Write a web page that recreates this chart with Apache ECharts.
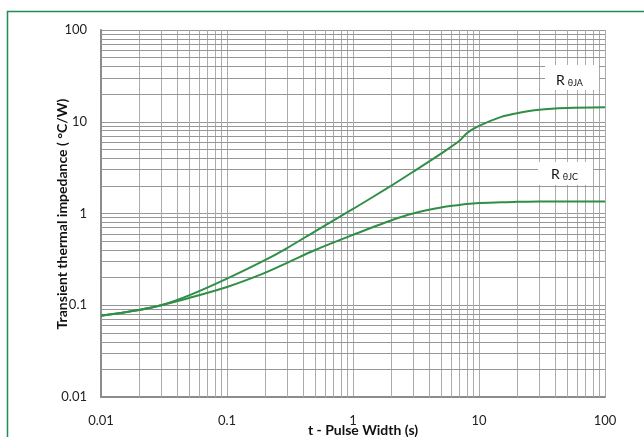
<!DOCTYPE html>
<html>
<head>
<meta charset="utf-8">
<script src="https://cdn.jsdelivr.net/npm/echarts@6/dist/echarts.min.js"></script>
<style>
html,body{margin:0;padding:0;background:#fff;}
#chart{width:644px;height:437px;}
</style>
</head>
<body>
<div id="chart"></div>
<script>
// ---- data ----
var pulseWidth = [0.01, 0.02, 0.03, 0.05, 0.1, 0.2, 0.3, 0.5, 1, 2, 3, 5, 7, 8, 10, 15, 20, 30, 50, 100];
var rThetaJA   = [0.077, 0.089, 0.100, 0.128, 0.195, 0.31, 0.42, 0.64, 1.12, 2.0, 2.85, 4.5, 6.2, 7.5, 9.0, 11.3, 12.4, 13.5, 14.1, 14.35];
var rThetaJC   = [0.077, 0.089, 0.100, 0.120, 0.158, 0.225, 0.29, 0.40, 0.585, 0.84, 1.0, 1.16, 1.24, 1.27, 1.30, 1.33, 1.34, 1.35, 1.355, 1.355];
var xTicks = [0.01, 0.1, 1, 10, 100];
var yTicks = [0.01, 0.1, 1, 10, 100];
var seriesNames = ['RθJA', 'RθJC'];

function pairs(xs, ys){ return xs.map(function(x,i){ return [x, ys[i]]; }); }
function minors(){
  var out = [];
  for (var k = -2; k <= 1; k++) for (var m = 2; m <= 9; m++) out.push(m * Math.pow(10, k));
  return out;
}
var minorVals = minors();
var gridV = '#ababab', gridH = '#969696';
var fontFam = 'Lato, "Liberation Sans", sans-serif';

var chart = echarts.init(document.getElementById('chart'), null, {renderer:'canvas'});
var option = {
  animation: false,
  backgroundColor: '#fff',
  grid: {left: 101, right: 39, top: 30, bottom: 40, containLabel: false},
  xAxis: {
    type: 'log', logBase: 10, min: xTicks[0], max: xTicks[xTicks.length-1],
    axisLine: {show: true, lineStyle: {color: '#8c8c8c', width: 2}},
    axisTick: {show: false},
    axisLabel: {color: '#222', fontSize: 13, fontFamily: fontFam, margin: 17,
      formatter: function(v){ return String(+v.toPrecision(6)); }},
    splitLine: {show: true, lineStyle: {color: gridV, width: 1}}
  },
  yAxis: {
    type: 'log', logBase: 10, min: yTicks[0], max: yTicks[yTicks.length-1],
    axisLine: {show: true, lineStyle: {color: '#8c8c8c', width: 2}},
    axisTick: {show: false},
    axisLabel: {color: '#222', fontSize: 13, fontFamily: fontFam, margin: 14,
      formatter: function(v){ return String(+v.toPrecision(6)); }},
    splitLine: {show: true, lineStyle: {color: gridH, width: 1}}
  },
  series: [
    {
      type: 'line', name: 'grid', data: [], z: 1, silent: true,
      markLine: {
        silent: true, symbol: 'none', animation: false, label: {show: false},
        data: minorVals.map(function(v){ return {xAxis: v, lineStyle: {color: gridV, width: 1, type: 'solid'}}; })
          .concat(minorVals.map(function(v){ return {yAxis: v, lineStyle: {color: gridH, width: 1, type: 'solid'}}; }))
      }
    },
    {
      type: 'line', name: seriesNames[0], data: pairs(pulseWidth, rThetaJA), smooth: 0.3,
      showSymbol: false, z: 5, lineStyle: {color: '#2f8f46', width: 2}
    },
    {
      type: 'line', name: seriesNames[1], data: pairs(pulseWidth, rThetaJC), smooth: 0.3,
      showSymbol: false, z: 5, lineStyle: {color: '#2f8f46', width: 2}
    }
  ],
  graphic: [
    {type: 'rect', left: 5, top: 9, shape: {width: 700, height: 500}, z: 0,
      style: {fill: 'none', stroke: '#1f8a5a', lineWidth: 1.5}, silent: true},
    {type: 'rect', shape: {x: 545, y: 65, width: 54, height: 25}, z: 10, style: {fill: '#fff'}},
    {type: 'text', x: 556, y: 79, z: 11, style: {
      text: '{r|R}{s|θJA}', fill: '#111', verticalAlign: 'middle', fontFamily: fontFam,
      rich: {r: {fontSize: 14, lineHeight: 17, fontFamily: fontFam, verticalAlign: 'bottom'},
             s: {fontSize: 9, lineHeight: 11, fontFamily: fontFam, verticalAlign: 'bottom', padding: [0,0,0,3]}}
    }},
    {type: 'rect', shape: {x: 538, y: 162, width: 55, height: 23}, z: 10, style: {fill: '#fff'}},
    {type: 'text', x: 551, y: 173, z: 11, style: {
      text: '{r|R}{s|θJC}', fill: '#111', verticalAlign: 'middle', fontFamily: fontFam,
      rich: {r: {fontSize: 14, lineHeight: 17, fontFamily: fontFam, verticalAlign: 'bottom'},
             s: {fontSize: 9, lineHeight: 11, fontFamily: fontFam, verticalAlign: 'bottom', padding: [0,0,0,3]}}
    }},
    {type: 'text', x: 363, y: 430, z: 11, style: {
      text: 't - Pulse Width (s)', fill: '#111', fontSize: 14, fontWeight: 'bold',
      fontFamily: fontFam, align: 'center', verticalAlign: 'middle'}},
    {type: 'text', x: 62, y: 214, rotation: Math.PI/2, z: 11, style: {
      text: 'Transient thermal impedance ( °C/W)', fill: '#111', fontSize: 14, fontWeight: 'bold',
      fontFamily: fontFam, align: 'center', verticalAlign: 'middle'}}
  ]
};
chart.setOption(option);
</script>
</body>
</html>
